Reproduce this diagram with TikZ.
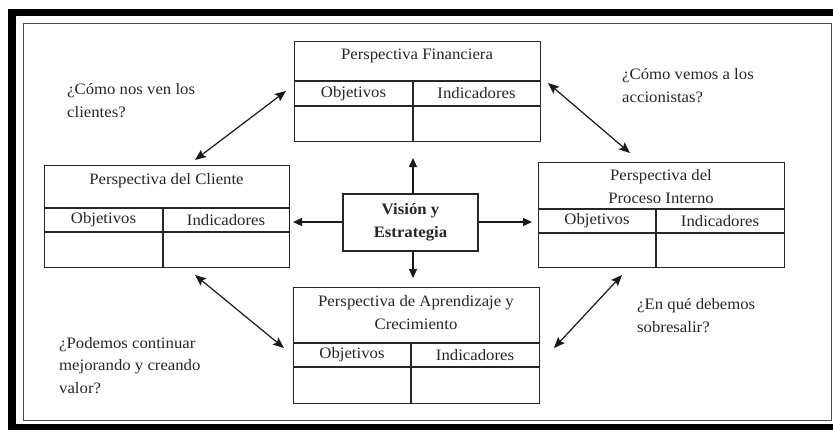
\documentclass[tikz,border=0pt]{standalone}
\usepackage{fontspec}
\setmainfont{Liberation Serif}[FakeStretch=1.05]
\usetikzlibrary{arrows.meta}
\begin{document}
\begin{tikzpicture}[x=1bp,y=-1bp,
  boxframe/.style={draw=black!85, line width=1.3bp, rectangle, inner sep=0pt, anchor=north west},
  rule/.style={draw=black!85, line width=1.3bp},
  txt/.style={font=\fontsize{16}{23}\selectfont, text=black!85, inner sep=0pt},
  question/.style={txt, align=left, anchor=west},
  title/.style={txt, align=center},
  visbox/.style={draw=black!85, line width=1.3bp, rectangle, inner sep=0pt,
    minimum width=135bp, minimum height=57bp, align=center,
    font=\fontsize{16}{23}\selectfont\bfseries, text=black!85},
  arr/.style={draw=black!90, line width=1.1bp, -{Triangle[length=9bp,width=8bp]}},
  dbl/.style={draw=black!90, line width=1.2bp, {Stealth[length=11bp,width=9bp,inset=2bp]}-{Stealth[length=11bp,width=9bp,inset=2bp]}}
]
\useasboundingbox (0,0) rectangle (833,429);
\clip (0,0) rectangle (833,429);
\fill[white] (0,0) rectangle (833,429);

% outer heavy frame and inner thin border
\draw[line width=7.5bp] (12,12.5) rectangle (842,427.5);
\draw[line width=1bp, black!70] (23,23) rectangle (831,420);

% ---- Perspectiva Financiera ----
\node[boxframe, minimum width=246bp, minimum height=100bp] (fin) at (294,41) {};
\draw[rule] (294,81) -- (540,81);
\draw[rule] (294,106) -- (540,106);
\draw[rule] (413,81) -- (413,141);
\node[title] (finT) at (417,56) {Perspectiva Financiera};
\node[txt] (finO) at (353.5,93.5) {Objetivos};
\node[txt] (finI) at (476.5,93.5) {Indicadores};

% ---- Perspectiva del Cliente ----
\node[boxframe, minimum width=245bp, minimum height=102bp] (cli) at (44,165) {};
\draw[rule] (44,208) -- (289,208);
\draw[rule] (44,232) -- (289,232);
\draw[rule] (163,208) -- (163,267);
\node[title] (cliT) at (166.5,181) {Perspectiva del Cliente};
\node[txt] (cliO) at (103.5,220) {Objetivos};
\node[txt] (cliI) at (226,220) {Indicadores};

% ---- Perspectiva del Proceso Interno ----
\node[boxframe, minimum width=246bp, minimum height=105bp] (pro) at (538,162) {};
\draw[rule] (538,209) -- (784,209);
\draw[rule] (538,233) -- (784,233);
\draw[rule] (656,209) -- (656,267);
\node[title] (proT) at (661,186.5) {Perspectiva del\\Proceso Interno};
\node[txt] (proO) at (597,221) {Objetivos};
\node[txt] (proI) at (720,221) {Indicadores};

% ---- Perspectiva de Aprendizaje y Crecimiento ----
\node[boxframe, minimum width=246bp, minimum height=116bp] (apr) at (293,287) {};
\draw[rule] (293,343) -- (539,343);
\draw[rule] (293,367) -- (539,367);
\draw[rule] (411,343) -- (411,403);
\node[title] (aprT) at (416,312.5) {Perspectiva de Aprendizaje y\\Crecimiento};
\node[txt] (aprO) at (352,355) {Objetivos};
\node[txt] (aprI) at (475,355) {Indicadores};

% ---- Centre ----
\node[visbox] (vis) at (410.5,222.5) {Visión y\\Estrategia};

\coordinate (tU) at (413,158);
\coordinate (tD) at (413,278);
\coordinate (tL) at (293,222);
\coordinate (tR) at (532,222);
\draw[arr] (vis.north -| tU) -- (tU);
\draw[arr] (vis.south -| tD) -- (tD);
\draw[arr] (vis.west |- tL) -- (tL);
\draw[arr] (vis.east |- tR) -- (tR);

% ---- diagonal links between perspectives ----
\coordinate (a1) at (286,91);  \coordinate (b1) at (195,160);
\coordinate (a2) at (548,83);  \coordinate (b2) at (630,153);
\coordinate (a3) at (195,275); \coordinate (b3) at (284,348);
\coordinate (a4) at (622,275); \coordinate (b4) at (554,348);
\draw[dbl] (a1) -- (b1);
\draw[dbl] (a2) -- (b2);
\draw[dbl] (a3) -- (b3);
\draw[dbl] (a4) -- (b4);

% ---- questions ----
\node[question] (q1) at (67,101) {¿Cómo nos ven los\\clientes?};
\node[question] (q2) at (622,85.5) {¿Cómo vemos a los\\accionistas?};
\node[question] (q3) at (59,365.5) {¿Podemos continuar\\mejorando y creando\\valor?};
\node[question] (q4) at (637,315.5) {¿En qué debemos\\sobresalir?};
\end{tikzpicture}
\end{document}
